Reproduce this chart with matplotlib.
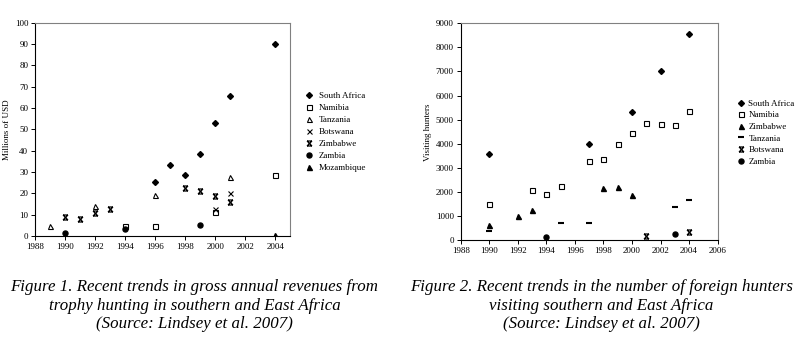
import matplotlib
matplotlib.use("Agg")
import matplotlib.pyplot as plt
from matplotlib.path import Path

plt.rcParams['font.family'] = ['Liberation Serif', 'DejaVu Serif']

# ---- Figure 1: revenues (millions USD) ----
rev_sa_years = [1996, 1997, 1998, 1999, 2000, 2001, 2004]
rev_sa = [25.4, 33.2, 28.6, 38.5, 53, 65.7, 90.3]
rev_nam_years = [1994, 1996, 2000, 2004]
rev_nam = [4.5, 4.5, 11.4, 28.5]
rev_tan_years = [1989, 1992, 1996, 2001]
rev_tan = [4.5, 14, 19.4, 27.5]
rev_bot_years = [2000, 2001]
rev_bot = [12.6, 20.2]
rev_zim_years = [1990, 1991, 1992, 1993, 1998, 1999, 2000, 2001]
rev_zim = [8.9, 7.7, 10.8, 12.8, 22.4, 21.1, 18.6, 16.1]
rev_zam_years = [1990, 1994, 1999]
rev_zam = [1.4, 3.1, 5.0]
rev_moz_years = [2004]
rev_moz = [0.5]

# ---- Figure 2: visiting hunters ----
hun_sa_years = [1990, 1997, 2000, 2002, 2004]
hun_sa = [3570, 4000, 5340, 7010, 8545]
hun_nam_years = [1990, 1993, 1994, 1995, 1997, 1998, 1999, 2000, 2001, 2002, 2003, 2004]
hun_nam = [1500, 2070, 1940, 2250, 3295, 3365, 4000, 4455, 4870, 4830, 4775, 5365]
hun_zim_years = [1990, 1992, 1993, 1998, 1999, 2000]
hun_zim = [625, 1030, 1250, 2170, 2220, 1900]
hun_tan_years = [1990, 1995, 1997, 2003, 2004]
hun_tan = [405, 710, 710, 1390, 1665]
hun_bot_years = [2001, 2004]
hun_bot = [195, 360]
hun_zam_years = [1994, 2003]
hun_zam = [140, 250]

# Excel-like "star" marker: an x with bars on top and bottom
star = Path([(-1, -1), (1, 1), (-1, 1), (1, -1), (-1, 1), (1, 1), (-1, -1), (1, -1)],
            [Path.MOVETO, Path.LINETO, Path.MOVETO, Path.LINETO,
             Path.MOVETO, Path.LINETO, Path.MOVETO, Path.LINETO])

fig = plt.figure(figsize=(8, 3.52), dpi=100)

def style_axes(ax):
    for s in ax.spines.values():
        s.set_color('#808080')
        s.set_linewidth(0.8)
    ax.spines['left'].set_color('black')
    ax.spines['bottom'].set_color('black')
    ax.tick_params(direction='out', length=3, width=0.7, labelsize=6.5, pad=2)

ms = 3.6
dms = 3.0  # diamonds look smaller in the original
ax1 = fig.add_axes([0.044, 0.330, 0.319, 0.605])
ax1.plot(rev_sa_years, rev_sa, 'D', color='black', ms=dms, label='South Africa', ls='none')
ax1.plot(rev_nam_years, rev_nam, 's', mfc='white', mec='black', mew=0.8, ms=ms, label='Namibia', ls='none')
ax1.plot(rev_tan_years, rev_tan, '^', mfc='white', mec='black', mew=0.8, ms=ms, label='Tanzania', ls='none')
ax1.plot(rev_bot_years, rev_bot, 'x', color='black', mew=0.8, ms=ms, label='Botswana', ls='none')
ax1.plot(rev_zim_years, rev_zim, marker=star, color='black', mew=0.9, ms=ms, label='Zimbabwe', ls='none')
ax1.plot(rev_zam_years, rev_zam, 'o', color='black', ms=ms, label='Zambia', ls='none')
ax1.plot(rev_moz_years, rev_moz, '^', color='black', ms=ms, label='Mozambique', ls='none')
ax1.set_xlim(1988, 2005)
ax1.set_ylim(0, 100)
ax1.set_xticks(range(1988, 2005, 2))
ax1.set_yticks(range(0, 101, 10))
ax1.set_ylabel('Millions of USD', fontsize=6.5, labelpad=3)
style_axes(ax1)
ax1.legend(loc='upper left', bbox_to_anchor=(1.04, 0.695), frameon=False, fontsize=6.5,
           handlelength=1, handletextpad=0.6, labelspacing=0.42, borderaxespad=0)

ax2 = fig.add_axes([0.576, 0.317, 0.321, 0.617])
ax2.plot(hun_sa_years, hun_sa, 'D', color='black', ms=dms, label='South Africa', ls='none')
ax2.plot(hun_nam_years, hun_nam, 's', mfc='white', mec='black', mew=0.8, ms=ms, label='Namibia', ls='none')
ax2.plot(hun_zim_years, hun_zim, '^', color='black', ms=ms, label='Zimbabwe', ls='none')
ax2.plot(hun_tan_years, hun_tan, '_', color='black', mew=1.5, ms=ms + 1, label='Tanzania', ls='none')
ax2.plot(hun_bot_years, hun_bot, marker=star, color='black', mew=0.9, ms=ms, label='Botswana', ls='none')
ax2.plot(hun_zam_years, hun_zam, 'o', color='black', ms=ms, label='Zambia', ls='none')
ax2.set_xlim(1988, 2006)
ax2.set_ylim(0, 9000)
ax2.set_xticks(range(1988, 2007, 2))
ax2.set_yticks(range(0, 9001, 1000))
ax2.set_ylabel('Visiting hunters', fontsize=6.5, labelpad=3)
style_axes(ax2)
ax2.legend(loc='upper left', bbox_to_anchor=(1.06, 0.665), frameon=False, fontsize=6.5,
           handlelength=1, handletextpad=0.3, labelspacing=0.36, borderaxespad=0)

cap1 = ('Figure 1. Recent trends in gross annual revenues from\n'
        'trophy hunting in southern and East Africa\n'
        '(Source: Lindsey et al. 2007)')
cap2 = ('Figure 2. Recent trends in the number of foreign hunters\n'
        'visiting southern and East Africa\n'
        '(Source: Lindsey et al. 2007)')
fig.text(0.243, 0.131, cap1, ha='center', va='center', style='italic', fontsize=12.2, linespacing=1.2)
fig.text(0.752, 0.131, cap2, ha='center', va='center', style='italic', fontsize=12.2, linespacing=1.2)

fig.savefig('out.png', dpi=100)
